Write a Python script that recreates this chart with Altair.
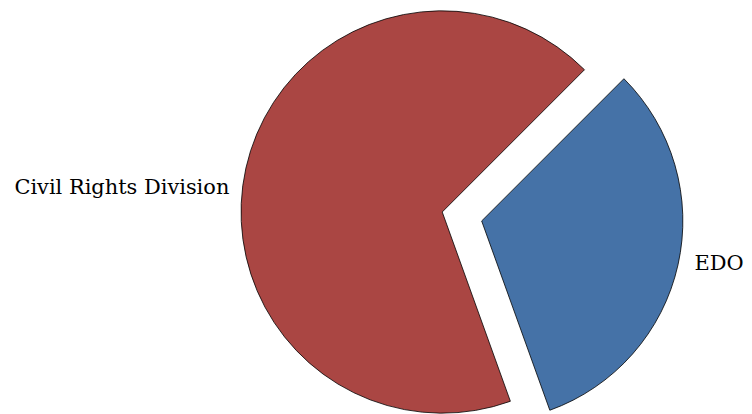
import math
import altair as alt
import pandas as pd

categories = ["EDO", "Civil Rights Division"]
values = [32, 68]
colors = ["#4572A7", "#AA4643"]

df = pd.DataFrame({"category": categories, "value": values, "order": [0, 1]})

base = (
    alt.Chart(df)
    .transform_window(cum="sum(value)", sort=[alt.SortField("order")])
    .transform_joinaggregate(total="sum(value)")
    .transform_calculate(
        start="(datum.cum - datum.value) / datum.total",
        end="datum.cum / datum.total",
        mid="(datum.cum - datum.value / 2) / datum.total",
    )
)

theta_scale = alt.Scale(domain=[0, 1], range=[math.pi / 4, math.pi / 4 + 2 * math.pi])
color_scale = alt.Scale(domain=categories, range=colors)

RED_C = (436, 201)
BLUE_C = (475.6, 210)
R = 202
FONT = "DejaVu Serif"


def slice_layer(cat, center):
    return (
        base.transform_filter(alt.datum.category == cat)
        .mark_arc(stroke="black", strokeWidth=0.8, radius=R)
        .encode(
            theta=alt.Theta("start:Q", scale=theta_scale),
            theta2="end:Q",
            color=alt.Color("category:N", scale=color_scale, legend=None),
            x=alt.value(center[0]),
            y=alt.value(center[1]),
        )
    )


def label_layer(cat, center, align, dy):
    return (
        base.transform_filter(alt.datum.category == cat)
        .mark_text(
            radius=219,
            align=align,
            baseline="alphabetic",
            dy=dy,
            font=FONT,
            fontSize=21,
            color="black",
        )
        .encode(
            theta=alt.Theta("mid:Q", scale=theta_scale),
            text="category:N",
            x=alt.value(center[0]),
            y=alt.value(center[1]),
        )
    )


chart = (
    alt.layer(
        slice_layer("Civil Rights Division", RED_C),
        slice_layer("EDO", BLUE_C),
        label_layer("Civil Rights Division", RED_C, "right", 30),
        label_layer("EDO", BLUE_C, "left", 1),
    )
    .properties(width=736, height=398, padding=0)
    .configure_view(stroke=None)
)

chart.save("out.html", embed_options={"renderer": "svg", "actions": False})
